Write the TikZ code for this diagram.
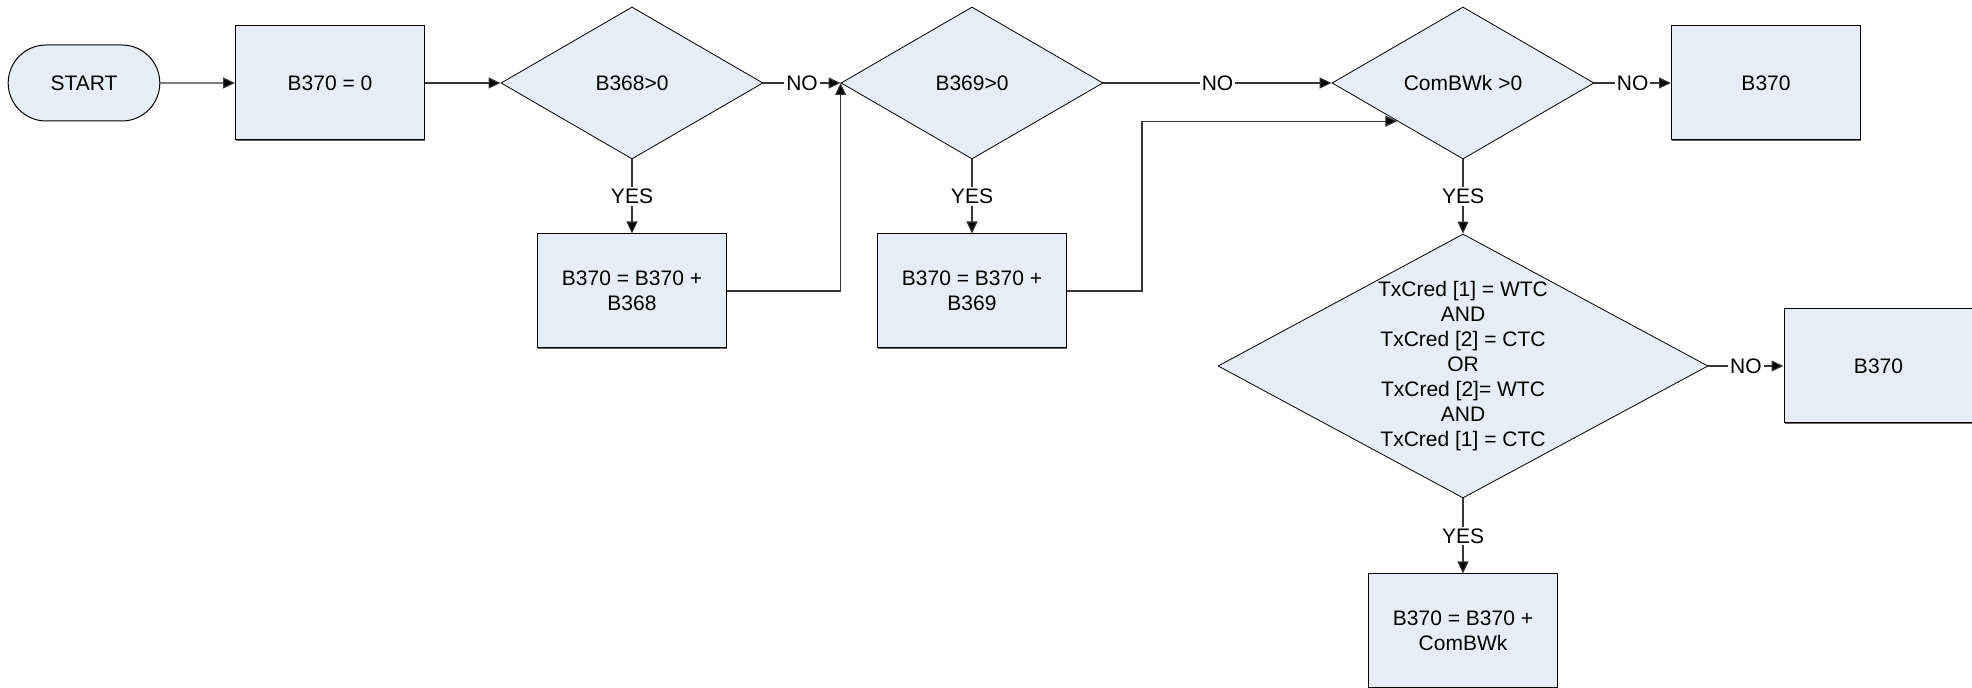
\documentclass[tikz,border=0pt]{standalone}
\usepackage{fontspec}
\setmainfont{Liberation Sans}
\usepackage{xcolor}
\usetikzlibrary{arrows.meta, positioning, calc, shapes.geometric, shapes.misc, shadows}
\definecolor{boxfill}{RGB}{231,237,247}
\definecolor{linegray}{RGB}{55,55,55}
\tikzset{
  proc/.style={draw=black, fill=boxfill, line width=0.5pt, minimum width=94.5pt, minimum height=57pt,
    align=center, inner sep=2pt, drop shadow={shadow xshift=0.4pt, shadow yshift=-0.6pt, fill=black!60, opacity=1}},
  decision/.style={diamond, draw=black, fill=boxfill, line width=0.4pt, minimum width=131pt, minimum height=76pt,
    inner sep=0pt, align=center, shape aspect=1.72},
  term/.style={rounded rectangle, draw=black, fill=boxfill, line width=0.5pt, minimum width=82.5pt, minimum height=38pt},
  flow/.style={draw=linegray, line width=0.55pt, -{Triangle[length=6pt,width=5.5pt,fill=black]}},
  lbl/.style={fill=white, inner sep=1pt}
}

\begin{document}
\begin{tikzpicture}[x=0.5pt,y=-0.5pt,font=\fontsize{10.5}{12.5}\selectfont]
  \useasboundingbox (0,0) rectangle (1972,688);
  % top row
  \node[term]     (start) at (84,83)   {START};
  \node[proc]     (init)  at (330,83)  {B370 = 0};
  \node[decision] (d1)    at (632,83)  {B368>0};
  \node[decision] (d2)    at (972,83)  {B369>0};
  \node[decision] (d3)    at (1463,83) {ComBWk >0};
  \node[proc]     (out1)  at (1766,83) {B370};
  % second row
  \node[proc]     (add1)  at (632,291) {B370 = B370 +\\B368};
  \node[proc]     (add2)  at (972,291) {B370 = B370 +\\B369};
  \node[decision, minimum width=245pt, minimum height=132pt, shape aspect=1.86] (d4) at (1463,366)
    {TxCred [1] = WTC\\AND\\TxCred [2] = CTC\\OR\\TxCred [2]= WTC\\AND\\TxCred [1] = CTC};
  \node[proc]     (out2)  at (1878.5,366) {B370};
  \node[proc]     (add3)  at (1463,631) {B370 = B370 +\\ComBWk};
  \coordinate (d3in) at ($(d3.west)!0.5!(d3.south)$);
  % connectors
  \draw[flow] (start) -- (init);
  \draw[flow] (init) -- (d1);
  \draw[flow] (d1.east) -- node[lbl] {NO} (d2.west);
  \draw[flow] (d1.south) -- node[lbl] {YES} (add1.north);
  \draw[flow] (add1.east) -| (d2.west);
  \draw[flow] (d2.east) -- node[lbl] {NO} (d3.west);
  \draw[flow] (d2.south) -- node[lbl] {YES} (add2.north);
  \draw[flow] (add2.east) -- ++(75,0) |- (d3in);
  \draw[flow] (d3.east) -- node[lbl] {NO} (out1.west);
  \draw[flow] (d3.south) -- node[lbl] {YES} (d4.north);
  \draw[flow] (d4.east) -- node[lbl] {NO} (out2.west);
  \draw[flow] (d4.south) -- node[lbl] {YES} (add3.north);
\end{tikzpicture}
\end{document}
